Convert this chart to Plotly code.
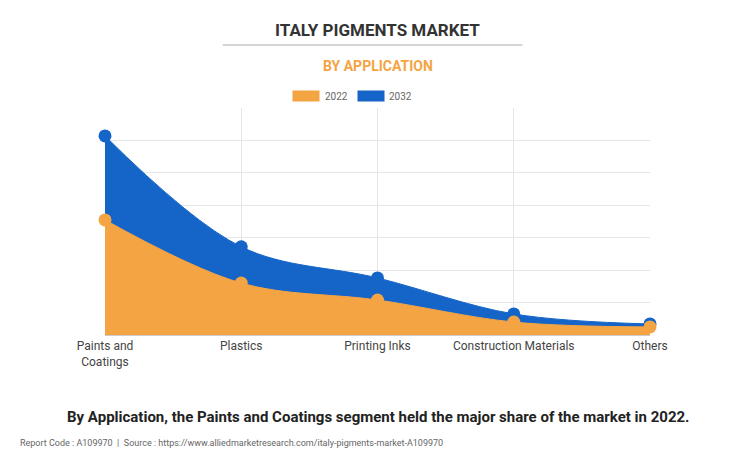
import plotly.graph_objects as go

# --- DATA ---
categories = ["Paints and<br>Coatings", "Plastics", "Printing Inks", "Construction Materials", "Others"]
values_2022 = [3.55, 1.6, 1.08, 0.4, 0.25]
values_2032 = [6.14, 2.72, 1.76, 0.65, 0.34]

x_pos = list(range(len(categories)))
fig = go.Figure()

fig.add_trace(go.Scatter(
    x=x_pos, y=values_2032, name="2032", mode="lines+markers",
    line=dict(color="#1565C8", shape="spline", width=1), fill="tozeroy", fillcolor="#1565C8",
    marker=dict(size=13, color="#1565C8"), cliponaxis=False,
))
fig.add_trace(go.Scatter(
    x=x_pos, y=values_2022, name="2022", mode="lines+markers",
    line=dict(color="#F4A443", shape="spline", width=1), fill="tozeroy", fillcolor="#F4A443",
    marker=dict(size=13, color="#F4A443"), cliponaxis=False,
))

fig.update_layout(
    width=730, height=453, plot_bgcolor="white", paper_bgcolor="white",
    margin=dict(l=97, r=88, t=100, b=126),
    font=dict(family="Roboto, Arial", color="#444"),
    showlegend=False,
    xaxis=dict(range=[0, 4], tickvals=x_pos, ticktext=categories, showgrid=True,
               gridcolor="#e6e6e6", zeroline=False, tickfont=dict(size=12, color="#444"),
               showline=True, linecolor="#ccc"),
    yaxis=dict(range=[0, 7], dtick=1, showticklabels=False, gridcolor="#e6e6e6", zeroline=False),
)

# title block
fig.add_annotation(text="<b>ITALY PIGMENTS MARKET</b>", xref="paper", yref="paper", x=0.5, y=1.0,
                   xanchor="center", yanchor="bottom", yshift=66, showarrow=False,
                   font=dict(size=17, color="#333"))
fig.add_shape(type="line", xref="paper", yref="paper", x0=0.216, x1=0.766,
              ysizemode="pixel", yanchor=1, y0=63, y1=63, line=dict(color="#aaa", width=1))
fig.add_annotation(text="<b>BY APPLICATION</b>", xref="paper", yref="paper", x=0.5, y=1.0,
                   xanchor="center", yanchor="bottom", yshift=32, showarrow=False,
                   font=dict(size=14, color="#F4A443"))

# legend
for xp, col, lab in [(0.395, "#F4A443", "2022"), (0.513, "#1565C8", "2032")]:
    fig.add_annotation(text=" " * 14, xref="paper", yref="paper", x=xp, y=1.0, yshift=6,
                       xanchor="right", yanchor="bottom", showarrow=False,
                       bgcolor=col, font=dict(size=7))
    fig.add_annotation(text=lab, xref="paper", yref="paper", x=xp + 0.005, y=1.0, yshift=4,
                       xanchor="left", yanchor="bottom", showarrow=False,
                       font=dict(size=10, color="#666"))

fig.add_annotation(text="<b>By Application, the Paints and Coatings segment held the major share of the market in 2022.</b>",
                   xref="paper", yref="paper", x=0.5, y=0, yshift=-82, xanchor="center",
                   yanchor="middle", showarrow=False, font=dict(size=15, color="#222"))
fig.add_annotation(text="Report Code : A109970  |  Source : https://www.alliedmarketresearch.com/italy-pigments-market-A109970",
                   xref="paper", yref="paper", x=-0.16, y=0, yshift=-108, xanchor="left",
                   yanchor="middle", showarrow=False, font=dict(size=9, color="#666"))

fig.write_html("out.html")
